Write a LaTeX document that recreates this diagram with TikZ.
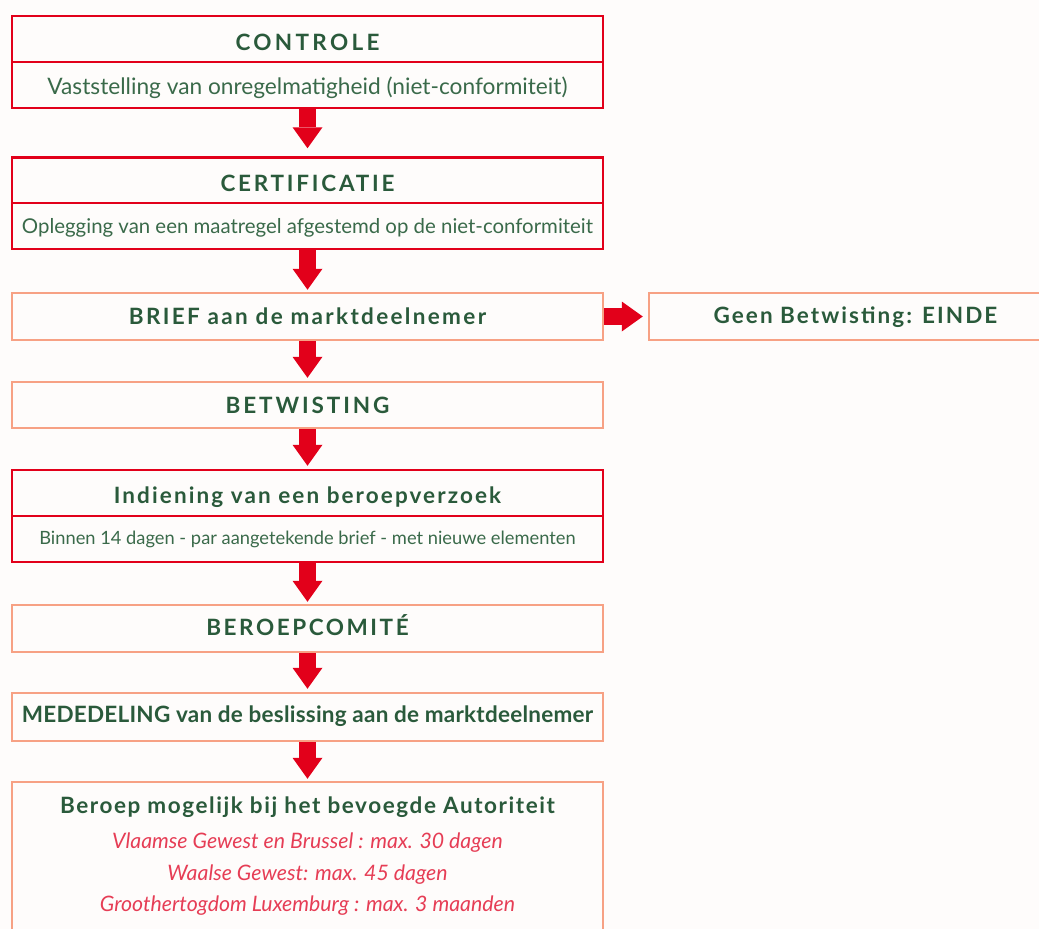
\documentclass[tikz,border=0pt]{standalone}
\usepackage{fontspec}
\setmainfont{Lato}
\usetikzlibrary{arrows.meta}
\definecolor{bgc}{HTML}{FEFCFB}
\definecolor{redb}{HTML}{E2001A}
\definecolor{salm}{HTML}{F7A184}
\definecolor{tgreen}{HTML}{2A5A3B}
\definecolor{tgreenl}{HTML}{3A6A4A}
\definecolor{tpink}{HTML}{E63D55}
\tikzset{
  basebox/.style={rectangle, minimum width=591pt, inner sep=0pt, line width=2.5pt, fill=bgc},
  redbox/.style={basebox, draw=redb},
  salbox/.style={basebox, draw=salm},
  txt/.style={anchor=base, inner sep=0pt},
  ttl/.style={txt, text=tgreen, font={\bfseries\fontsize{22.5}{27}\selectfont\addfontfeatures{LetterSpace=#1}}},
  sub/.style={txt, text=tgreenl, font=\fontsize{#1}{26}\selectfont},
  itl/.style={txt, font=\itshape\fontsize{21.3}{25}\selectfont, text=tpink},
  blockarrow/.style={draw=redb, line width=17pt, -{Triangle[width=30pt,length=21pt,line width=0pt]}, shorten >=3pt}
}
\begin{document}
\begin{tikzpicture}[x=1pt,y=-1pt]
\clip (0,0) rectangle (1039,929);
\fill[bgc] (0,0) rectangle (1039,929);
% boxes
\node[redbox, minimum height=46pt] (c1t) at (307.5,39) {};
\node[redbox, minimum height=46pt] (c1b) at (307.5,85) {};
\node[redbox, minimum height=46pt] (c2t) at (307.5,180.5) {};
\node[redbox, minimum height=46pt] (c2b) at (307.5,226) {};
\node[salbox, minimum height=47pt] (brief) at (307.5,316.5) {};
\node[salbox, minimum width=413pt, minimum height=47pt] (geen) at (855.5,316.5) {};
\node[salbox, minimum height=46pt] (betw) at (307.5,405) {};
\node[redbox, minimum height=46pt] (indt) at (307.5,493) {};
\node[redbox, minimum height=46pt] (indb) at (307.5,539) {};
\node[salbox, minimum height=47pt] (comite) at (307.5,628.5) {};
\node[salbox, minimum height=48pt] (med) at (307.5,717) {};
\node[salbox, minimum height=190pt] (beroep) at (307.5,877) {};
% texts
\node[ttl=14.8] (t1) at (307.5,50) {CONTROLE};
\node[sub=22.7] (t2) at (307.5,94.3) {Vaststelling van onregelmatigheid (niet-conformiteit)};
\node[ttl=12.3] (t3) at (307.5,191.7) {CERTIFICATIE};
\node[sub=20.4] (t4) at (307.5,233.5) {Oplegging van een maatregel afgestemd op de niet-conformiteit};
\node[ttl=10.3] (t5) at (307.5,324.3) {BRIEF aan de marktdeelnemer};
\node[ttl=9.1] (t6) at (855.5,323.5) {Geen Betwisting: EINDE};
\node[ttl=12.8] (t7) at (307.5,413.3) {BETWISTING};
\node[ttl=9.3] (t8) at (307.5,503.3) {Indiening van een beroepverzoek};
\node[sub=18.3] (t9) at (307.5,544) {Binnen 14 dagen - par aangetekende brief - met nieuwe elementen};
\node[ttl=11.4] (t10) at (307.5,635) {BEROEPCOMITÉ};
\node[ttl=1] (t11) at (307.5,722) {MEDEDELING van de beslissing aan de marktdeelnemer};
\node[ttl=7] (t12) at (307.5,813) {Beroep mogelijk bij het bevoegde Autoriteit};
\node[itl] (l1) at (307.5,848) {Vlaamse Gewest en Brussel : max. 30 dagen};
\node[itl] (l2) at (307.5,880) {Waalse Gewest: max. 45 dagen};
\node[itl] (l3) at (307.5,911.7) {Groothertogdom Luxemburg : max. 3 maanden};
% arrows
\draw[blockarrow, shorten >=8pt] (c1b.south) -- (c2t.north);
\draw[blockarrow, shorten >=2pt] (c2b.south) -- (brief.north);
\draw[blockarrow, shorten >=5pt] (brief.east) -- (geen.west);
\draw[blockarrow] (brief.south) -- (betw.north);
\draw[blockarrow] (betw.south) -- (indt.north);
\draw[blockarrow, shorten >=2pt] (indb.south) -- (comite.north);
\draw[blockarrow] (comite.south) -- (med.north);
\draw[blockarrow, shorten >=2pt] (med.south) -- (beroep.north);
\end{tikzpicture}
\end{document}
